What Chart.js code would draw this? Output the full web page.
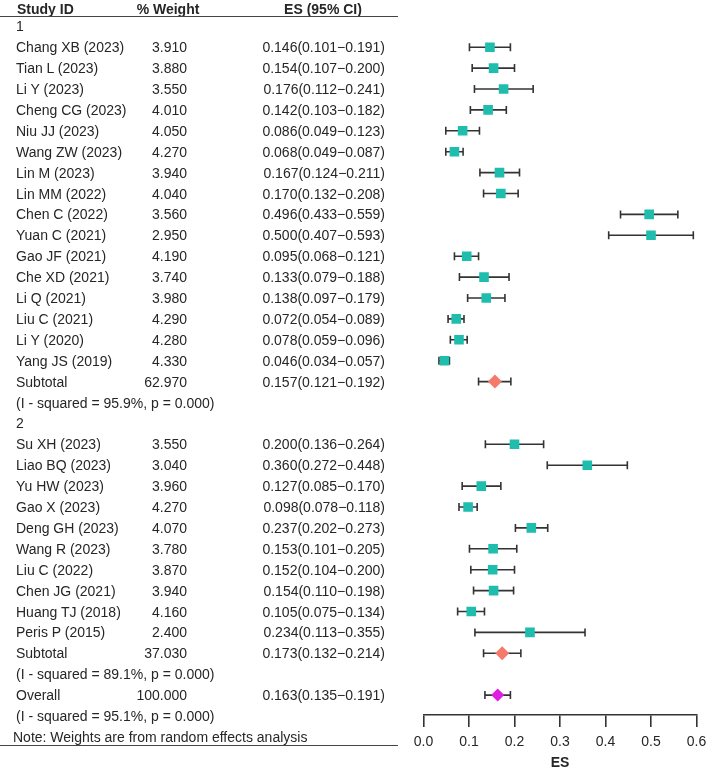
<!DOCTYPE html>
<html>
<head>
<meta charset="utf-8">
<script src="https://cdn.jsdelivr.net/npm/chart.js@4/dist/chart.umd.min.js"></script>
<style>
  body { margin: 0; background: #fff; }
  #wrap { position: relative; width: 709px; height: 772px; font-family: "Liberation Sans", Arial, sans-serif; color: #262626; }
  #wrap canvas { position: absolute; left: 0; top: 0; }
  .t { position: absolute; font-size: 14px; line-height: 16px; white-space: nowrap; }
  .b { font-weight: bold; }
  .hr { position: absolute; left: 0; width: 398px; height: 0; border-top: 1.5px solid #444; }
</style>
</head>
<body>
<div id="wrap">
  <canvas id="forest"></canvas>
</div>
<script>
// group 1
var group1Studies = ["Chang XB (2023)", "Tian L (2023)", "Li Y (2023)", "Cheng CG (2023)", "Niu JJ (2023)",
    "Wang ZW (2023)", "Lin M (2023)", "Lin MM (2022)", "Chen C (2022)", "Yuan C (2021)", "Gao JF (2021)",
    "Che XD (2021)", "Li Q (2021)", "Liu C (2021)", "Li Y (2020)", "Yang JS (2019)"];
var group1Weight = [3.91, 3.88, 3.55, 4.01, 4.05, 4.27, 3.94, 4.04, 3.56, 2.95, 4.19, 3.74, 3.98, 4.29, 4.28, 4.33];
var group1ES = [0.146, 0.154, 0.176, 0.142, 0.086, 0.068, 0.167, 0.170, 0.496, 0.500, 0.095, 0.133, 0.138, 0.072, 0.078, 0.046];
var group1Lower = [0.101, 0.107, 0.112, 0.103, 0.049, 0.049, 0.124, 0.132, 0.433, 0.407, 0.068, 0.079, 0.097, 0.054, 0.059, 0.034];
var group1Upper = [0.191, 0.200, 0.241, 0.182, 0.123, 0.087, 0.211, 0.208, 0.559, 0.593, 0.121, 0.188, 0.179, 0.089, 0.096, 0.057];

// group 2
var group2Studies = ["Su XH (2023)", "Liao BQ (2023)", "Yu HW (2023)", "Gao X (2023)", "Deng GH (2023)",
    "Wang R (2023)", "Liu C (2022)", "Chen JG (2021)", "Huang TJ (2018)", "Peris P (2015)"];
var group2Weight = [3.55, 3.04, 3.96, 4.27, 4.07, 3.78, 3.87, 3.94, 4.16, 2.40];
var group2ES = [0.200, 0.360, 0.127, 0.098, 0.237, 0.153, 0.152, 0.154, 0.105, 0.234];
var group2Lower = [0.136, 0.272, 0.085, 0.078, 0.202, 0.101, 0.104, 0.110, 0.075, 0.113];
var group2Upper = [0.264, 0.448, 0.170, 0.118, 0.273, 0.205, 0.200, 0.198, 0.134, 0.355];

// pooled
var groupNames = ["1", "2"];
var subtotalWeight = [62.97, 37.03];
var subtotalES = [0.157, 0.173];
var subtotalLower = [0.121, 0.132];
var subtotalUpper = [0.192, 0.214];
var subtotalI2 = [95.9, 89.1];
var overallWeight = 100;
var overallES = 0.163;
var overallLower = 0.135;
var overallUpper = 0.191;
var overallI2 = 95.1;

var xTicks = [0, 0.1, 0.2, 0.3, 0.4, 0.5, 0.6];

// row layout
var ROW_H = 20.9;
var ROW0_Y = 26.3;
var AREA_BOTTOM = 715;

function esText(es, lo, hi) {
    return es.toFixed(3) + "(" + lo.toFixed(3) + "\u2212" + hi.toFixed(3) + ")";
}

// build rows in display order
var rows = [];
var groups = [
    [group1Studies, group1Weight, group1ES, group1Lower, group1Upper],
    [group2Studies, group2Weight, group2ES, group2Lower, group2Upper]
];
groups.forEach(function (g, gi) {
    rows.push({ kind: "group", label: groupNames[gi] });
    g[0].forEach(function (name, i) {
        rows.push({ kind: "study", label: name, w: g[1][i], es: g[2][i], lo: g[3][i], hi: g[4][i] });
    });
    rows.push({ kind: "subtotal", label: "Subtotal", w: subtotalWeight[gi], es: subtotalES[gi], lo: subtotalLower[gi], hi: subtotalUpper[gi] });
    rows.push({ kind: "het", label: "(I - squared = " + subtotalI2[gi].toFixed(1) + "%, p = 0.000)" });
});
rows.push({ kind: "overall", label: "Overall", w: overallWeight, es: overallES, lo: overallLower, hi: overallUpper });
rows.push({ kind: "het", label: "(I - squared = " + overallI2.toFixed(1) + "%, p = 0.000)" });
rows.push({ kind: "note", label: "Note: Weights are from random effects analysis" });

var squares = [], subDiamonds = [], overallDiamond = [], caps = [], ciSets = [];
rows.forEach(function (r, i) {
    if (r.es === undefined) return;
    if (r.kind === "study") squares.push({ x: r.es, y: i });
    if (r.kind === "subtotal") subDiamonds.push({ x: r.es, y: i });
    if (r.kind === "overall") overallDiamond.push({ x: r.es, y: i });
    caps.push({ x: r.lo, y: i });
    caps.push({ x: r.hi, y: i });
    ciSets.push({
        data: [{ x: r.lo, y: i }, { x: r.hi, y: i }],
        showLine: true,
        borderColor: "#333",
        borderWidth: 1.6,
        pointRadius: 0,
        order: 3
    });
});

var yMin = -ROW0_Y / ROW_H;
var yMax = yMin + AREA_BOTTOM / ROW_H;

var datasets = [
    { data: squares, pointStyle: "rect", pointRadius: 6.8, backgroundColor: "#1fbdad", borderColor: "#1fbdad", borderWidth: 0, order: 0 },
    { data: subDiamonds, pointStyle: "rectRot", pointRadius: 7, backgroundColor: "#f47a6c", borderColor: "#f47a6c", borderWidth: 0, order: 0 },
    { data: overallDiamond, pointStyle: "rectRot", pointRadius: 6.5, backgroundColor: "#de1ee0", borderColor: "#de1ee0", borderWidth: 0, order: 0 },
    { data: caps, pointStyle: "line", rotation: 90, pointRadius: 4, borderColor: "#333", borderWidth: 1.6, order: 1 }
].concat(ciSets);

var chart = new Chart(document.getElementById("forest"), {
    type: "scatter",
    data: { datasets: datasets },
    options: {
        responsive: true,
        maintainAspectRatio: false,
        animation: false,
        events: [],
        layout: { autoPadding: false, padding: { left: 423.5, right: 12.5, top: 0, bottom: 0 } },
        plugins: { legend: { display: false }, tooltip: { enabled: false } },
        scales: {
            x: {
                type: "linear",
                min: xTicks[0],
                max: xTicks[xTicks.length - 1],
                afterBuildTicks: function (scale) {
                    scale.ticks = xTicks.map(function (v) { return { value: v }; });
                },
                afterFit: function (scale) {
                    scale.height = 772 - AREA_BOTTOM;
                    scale.paddingLeft = 0;
                    scale.paddingRight = 0;
                },
                ticks: {
                    padding: 7,
                    color: "#262626",
                    font: { family: "Liberation Sans", size: 14 },
                    callback: function (v) { return Number(v).toFixed(1); }
                },
                grid: { drawOnChartArea: false, drawTicks: true, tickLength: 12, color: "#333", lineWidth: 1.6 },
                border: { display: true, color: "#333", width: 1.6 },
                title: {
                    display: true,
                    text: "ES",
                    color: "#262626",
                    font: { family: "Liberation Sans", size: 14, weight: "bold" },
                    padding: { top: 0, bottom: 0 }
                }
            },
            y: {
                type: "linear",
                display: false,
                reverse: true,
                min: yMin,
                max: yMax
            }
        }
    }
});

// text columns
var wrap = document.getElementById("wrap");
function addText(txt, x, y, cls, align) {
    var d = document.createElement("div");
    d.className = "t" + (cls ? " " + cls : "");
    d.textContent = txt;
    d.style.top = (y - 8) + "px";
    if (align === "right") d.style.right = (709 - x) + "px";
    else if (align === "center") { d.style.left = (x - 100) + "px"; d.style.width = "200px"; d.style.textAlign = "center"; }
    else d.style.left = x + "px";
    wrap.appendChild(d);
}
function addRule(y) {
    var d = document.createElement("div");
    d.className = "hr";
    d.style.top = y + "px";
    wrap.appendChild(d);
}

addText("Study ID", 17, 9, "b");
addText("% Weight", 168, 9, "b", "center");
addText("ES (95% CI)", 323, 9, "b", "center");
addRule(15.5);

var yScale = chart.scales.y;
rows.forEach(function (r, i) {
    var y = yScale.getPixelForValue(i);
    var left = r.kind === "note" ? 13 : 16;
    addText(r.label, left, y);
    if (r.w !== undefined) addText(r.w.toFixed(3), 187, y, "", "right");
    if (r.es !== undefined) addText(esText(r.es, r.lo, r.hi), 385, y, "", "right");
});
addRule(744.5);
</script>
</body>
</html>
